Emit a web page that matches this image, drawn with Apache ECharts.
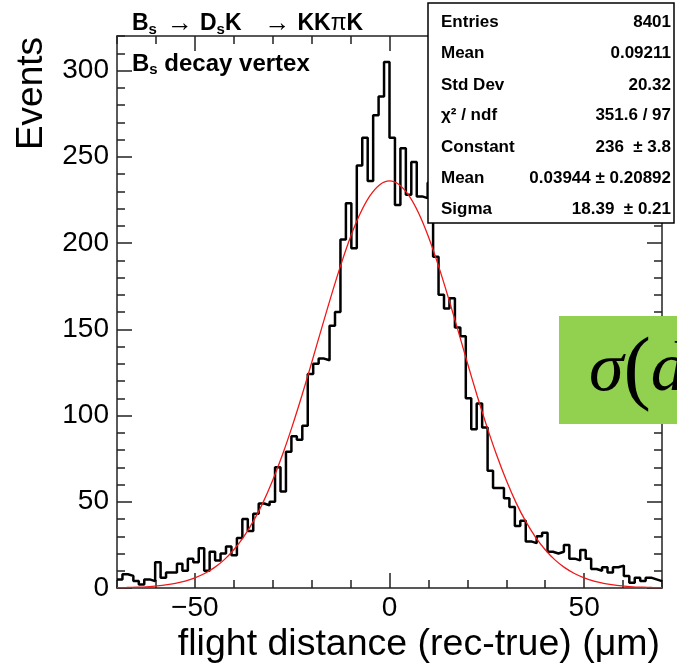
<!DOCTYPE html>
<html>
<head>
<meta charset="utf-8">
<script src="https://cdn.jsdelivr.net/npm/echarts@6.0.0/dist/echarts.min.js"></script>
<style>
html,body{margin:0;padding:0;background:#fff;}
#myChart{width:677px;height:666px;}
</style>
</head>
<body>
<div id="myChart"></div>
<script>
// 直方图分箱: 100 bins, -70 .. 70
var binLow = -70;
var binWidth = 1.4;
var counts = [
	5, 8, 7, 4, 2, 5, 4, 15, 6, 9,
	9, 14, 10, 17, 15, 23, 10, 21, 16, 20,
	24, 19, 29, 40, 33, 43, 49, 48, 50, 70,
	56, 79, 88, 86, 94, 124, 130, 133, 132, 152,
	160, 202, 223, 197, 245, 261, 236, 274, 285, 305,
	261, 222, 255, 228, 247, 227, 226, 235, 192, 170,
	162, 168, 151, 146, 110, 92, 107, 93, 68, 58,
	58, 52, 47, 36, 39, 27, 26, 30, 32, 21,
	20, 21, 25, 17, 16, 22, 17, 11, 10, 12,
	9, 12, 13, 7, 3, 6, 4, 6, 5, 4
];
// 拟合曲线
var fitX = [-70, -67.5, -65, -62.5, -60, -57.5, -55, -52.5, -50, -47.5, -45, -42.5, -40, -37.5, -35, -32.5, -30, -27.5, -25, -22.5, -20, -17.5, -15, -12.5, -10, -7.5, -5, -2.5,
	0, 2.5, 5, 7.5, 10, 12.5, 15, 17.5, 20, 22.5, 25, 27.5, 30, 32.5, 35, 37.5, 40, 42.5, 45, 47.5, 50, 52.5, 55, 57.5, 60, 62.5, 65, 67.5, 70];
var fitY = [0.2, 0.3, 0.5, 0.7, 1.2, 1.8, 2.7, 4.0, 5.9, 8.4, 11.8, 16.3, 22.2, 29.5, 38.6, 49.5, 62.4, 77.2, 93.7, 111.6, 130.6, 150.1, 169.2, 187.3, 203.6, 217.2, 227.4, 233.8,
	236, 233.8, 227.4, 217.2, 203.6, 187.3, 169.2, 150.1, 130.6, 111.6, 93.7, 77.2, 62.4, 49.5, 38.6, 29.5, 22.2, 16.3, 11.8, 8.4, 5.9, 4.0, 2.7, 1.8, 1.2, 0.7, 0.5, 0.3, 0.2];
var xMajorTicks = [-50, 0, 50];
var yMajorTicks = [0, 50, 100, 150, 200, 250, 300];
// 统计框
var statNames = ['Entries', 'Mean', 'Std Dev', 'χ² / ndf', 'Constant', 'Mean', 'Sigma'];
var statValues = ['8401', '0.09211', '20.32', '351.6 / 97', '236  ± 3.8', '0.03944 ± 0.20892', '18.39  ± 0.21'];

var FONT = "'Liberation Sans', Arial, Helvetica, sans-serif";
var SERIF = "'Liberation Serif', 'DejaVu Serif', serif";
var axisColor = '#222';

var histData = counts.map(function(c, i){
	return [Number((binLow + i * binWidth).toFixed(2)), c];
});
histData.push([Number((binLow + counts.length * binWidth).toFixed(2)), counts[counts.length - 1]]);
var fitData = fitX.map(function(x, i){ return [x, fitY[i]]; });

function makeAxis(pos, min, max, major, withLabel){
	var ax = {
		type: 'value',
		position: pos,
		min: min,
		max: max,
		splitLine: {show: false},
		axisLine: {show: true, onZero: false, lineStyle: {color: axisColor, width: 1.5}},
		axisTick: {show: true, inside: true, length: 15, customValues: major, lineStyle: {color: axisColor, width: 1.5}},
		axisLabel: {show: withLabel, customValues: major, color: '#000', fontSize: 28, fontFamily: FONT,
			margin: (pos == 'left' ? 8 : 6),
			formatter: function(v){ return String(v).replace('-', '\u2212'); }}
	};
	return ax;
}
function makeMinorAxis(pos, min, max){
	return {
		type: 'value',
		position: pos,
		min: min,
		max: max,
		interval: 10,
		splitLine: {show: false},
		axisLine: {show: false, onZero: false},
		axisTick: {show: true, inside: true, length: 8, lineStyle: {color: axisColor, width: 1.5}},
		axisLabel: {show: false}
	};
}

var graphics = [
	{type: 'text', x: 32, y: 37, rotation: Math.PI / 2,
		style: {text: 'Events', font: '37px ' + FONT, fill: '#000', align: 'right', verticalAlign: 'middle'}},
	{type: 'text', x: 660, y: 645,
		style: {text: 'flight distance (rec-true) (\u03bcm)', font: '37.5px ' + FONT, fill: '#000', align: 'right', verticalAlign: 'middle'}},
	{type: 'text', x: 132, y: 24,
		style: {
			text: '{b|B}{s|s}{a|\u2192}{b|D}{s|s}{b|K}{a2|\u2192}{b|KK}{p|\u03c0}{b|K}',
			verticalAlign: 'middle', align: 'left',
			rich: {
				b: {fontSize: 23, fontWeight: 'bold', fontFamily: FONT, fill: '#000', lineHeight: 26},
				s: {fontSize: 15, fontWeight: 'bold', fontFamily: FONT, fill: '#000', lineHeight: 26, verticalAlign: 'bottom'},
				a: {fontSize: 26, fontFamily: FONT, fill: '#000', lineHeight: 26, padding: [0, 7, 0, 10]},
				a2: {fontSize: 26, fontFamily: FONT, fill: '#000', lineHeight: 26, padding: [0, 7, 0, 23]},
				p: {fontSize: 23, fontFamily: FONT, fill: '#000', lineHeight: 26}
			}
		}},
	{type: 'text', x: 132, y: 64,
		style: {
			text: '{b|B}{s|s}{b| decay vertex}',
			verticalAlign: 'middle', align: 'left',
			rich: {
				b: {fontSize: 24, fontWeight: 'bold', fontFamily: FONT, fill: '#000', lineHeight: 27},
				s: {fontSize: 15, fontWeight: 'bold', fontFamily: FONT, fill: '#000', lineHeight: 27, verticalAlign: 'bottom'}
			}
		}},
	// 统计框
	{type: 'rect', z: 100, shape: {x: 428, y: 3, width: 246, height: 220},
		style: {fill: '#fff', stroke: '#000', lineWidth: 1.5}},
	// 绿色块
	{type: 'rect', z: 100, shape: {x: 559, y: 316, width: 130, height: 108},
		style: {fill: '#92d050'}},
	{type: 'text', z: 101, x: 589, y: 372,
		style: {
			text: '{i|\u03c3}{n|(}{i|d}',
			verticalAlign: 'middle', align: 'left',
			rich: {
				i: {fontSize: 70, fontStyle: 'italic', fontFamily: SERIF, fill: '#000', lineHeight: 90},
				n: {fontSize: 82, fontFamily: SERIF, fill: '#000', lineHeight: 90}
			}
		}}
];
var rowY = [22, 53, 85, 115, 147, 178, 209];
for(var i = 0; i < statNames.length; i++){
	graphics.push({type: 'text', z: 101, x: 441, y: rowY[i],
		style: {text: statNames[i], font: 'bold 17px ' + FONT, fill: '#000', align: 'left', verticalAlign: 'middle'}});
	graphics.push({type: 'text', z: 101, x: 671, y: rowY[i],
		style: {text: statValues[i], font: 'bold 17px ' + FONT, fill: '#000', align: 'right', verticalAlign: 'middle'}});
}

var myChart = echarts.init(document.getElementById('myChart'), null, {renderer: 'canvas'});
var option = {
	animation: false,
	backgroundColor: '#fff',
	grid: {left: 117, right: 15, top: 36, bottom: 78, containLabel: false, outerBoundsMode: 'none'},
	xAxis: [
		makeAxis('bottom', -70, 70, xMajorTicks, true),
		makeMinorAxis('bottom', -70, 70),
		makeAxis('top', -70, 70, xMajorTicks, false),
		makeMinorAxis('top', -70, 70)
	],
	yAxis: [
		makeAxis('left', 0, 320, yMajorTicks, true),
		makeMinorAxis('left', 0, 320),
		makeAxis('right', 0, 320, yMajorTicks, false),
		makeMinorAxis('right', 0, 320)
	],
	series: [{
		name: 'hist',
		type: 'line',
		step: 'end',
		symbol: 'none',
		data: histData,
		xAxisIndex: 0,
		yAxisIndex: 0,
		lineStyle: {color: '#000', width: 2.5},
		clip: true
	},{
		name: 'fit',
		type: 'line',
		smooth: 0.3,
		symbol: 'none',
		data: fitData,
		xAxisIndex: 0,
		yAxisIndex: 0,
		lineStyle: {color: '#f01818', width: 1.3},
		clip: true
	}],
	graphic: graphics
};
myChart.setOption(option);
</script>
</body>
</html>
